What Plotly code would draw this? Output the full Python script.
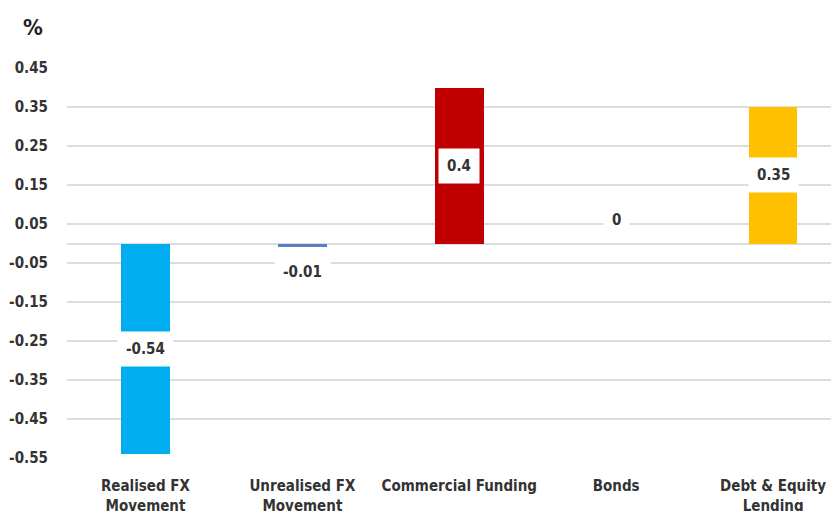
import plotly.graph_objects as go

categories = ["Realised FX<br>Movement", "Unrealised FX<br>Movement", "Commercial Funding", "Bonds", "Debt & Equity<br>Lending"]
values = [-0.54, -0.01, 0.4, 0.0, 0.35]
labels = ["-0.54", "-0.01", "0.4", "0", "0.35"]
colors = ["#00AEEF", "#5B7FC7", "#C00000", "#A0A0A0", "#FFC000"]
tick_vals = [0.45, 0.35, 0.25, 0.15, 0.05, -0.05, -0.15, -0.25, -0.35, -0.45, -0.55]
tick_text = ["0.45", "0.35", "0.25", "0.15", "0.05", "-0.05", "-0.15", "-0.25", "-0.35", "-0.45", "-0.55"]

FONT = "Liberation Sans Narrow, DejaVu Sans Condensed, Roboto, sans-serif"
TXT = "#333333"

fig = go.Figure()
fig.add_trace(go.Bar(
    x=list(range(len(categories))), y=values, marker_color=colors,
    marker_line_width=0, width=0.31, hoverinfo="skip", showlegend=False,
))

for i, (v, lab) in enumerate(zip(values, labels)):
    if abs(v) < 0.05:
        shift = -27 if v < 0 else 24
    else:
        shift = 0
    fig.add_annotation(
        x=i, y=v / 2, yshift=shift, text="<b>" + lab + "</b>", showarrow=False,
        font=dict(family=FONT, size=15, color=TXT),
        bgcolor="white", borderpad=8,
    )

fig.add_annotation(
    xref="paper", yref="paper", x=-0.044, y=1.103, text="<b>%</b>", showarrow=False,
    font=dict(family=FONT, size=22, color="#222222"), xanchor="center", yanchor="middle",
)

fig.update_layout(
    width=839, height=511,
    margin=dict(l=59, r=8, t=60, b=61),
    paper_bgcolor="white", plot_bgcolor="white",
    bargap=0,
    xaxis=dict(
        tickmode="array", tickvals=list(range(len(categories))),
        ticktext=["<b>" + c + "</b>" for c in categories],
        range=[-0.5, 4.42], showgrid=False, zeroline=False, showline=False,
        tickfont=dict(family=FONT, size=15, color=TXT),
        ticks="outside", ticklen=14, tickcolor="rgba(0,0,0,0)",
        automargin=False,
    ),
    yaxis=dict(
        range=[-0.55, 0.45], tickmode="array", tickvals=tick_vals,
        ticktext=["<b>" + t + "</b>" for t in tick_text],
        showgrid=True, gridcolor="#DDDDDD", gridwidth=1.5,
        zeroline=True, zerolinecolor="#DDDDDD", zerolinewidth=1.5,
        showline=False, ticks="outside", ticklen=15, tickcolor="rgba(0,0,0,0)",
        tickfont=dict(family=FONT, size=15, color=TXT),
        automargin=False,
    ),
)

fig.write_html("out.html")
